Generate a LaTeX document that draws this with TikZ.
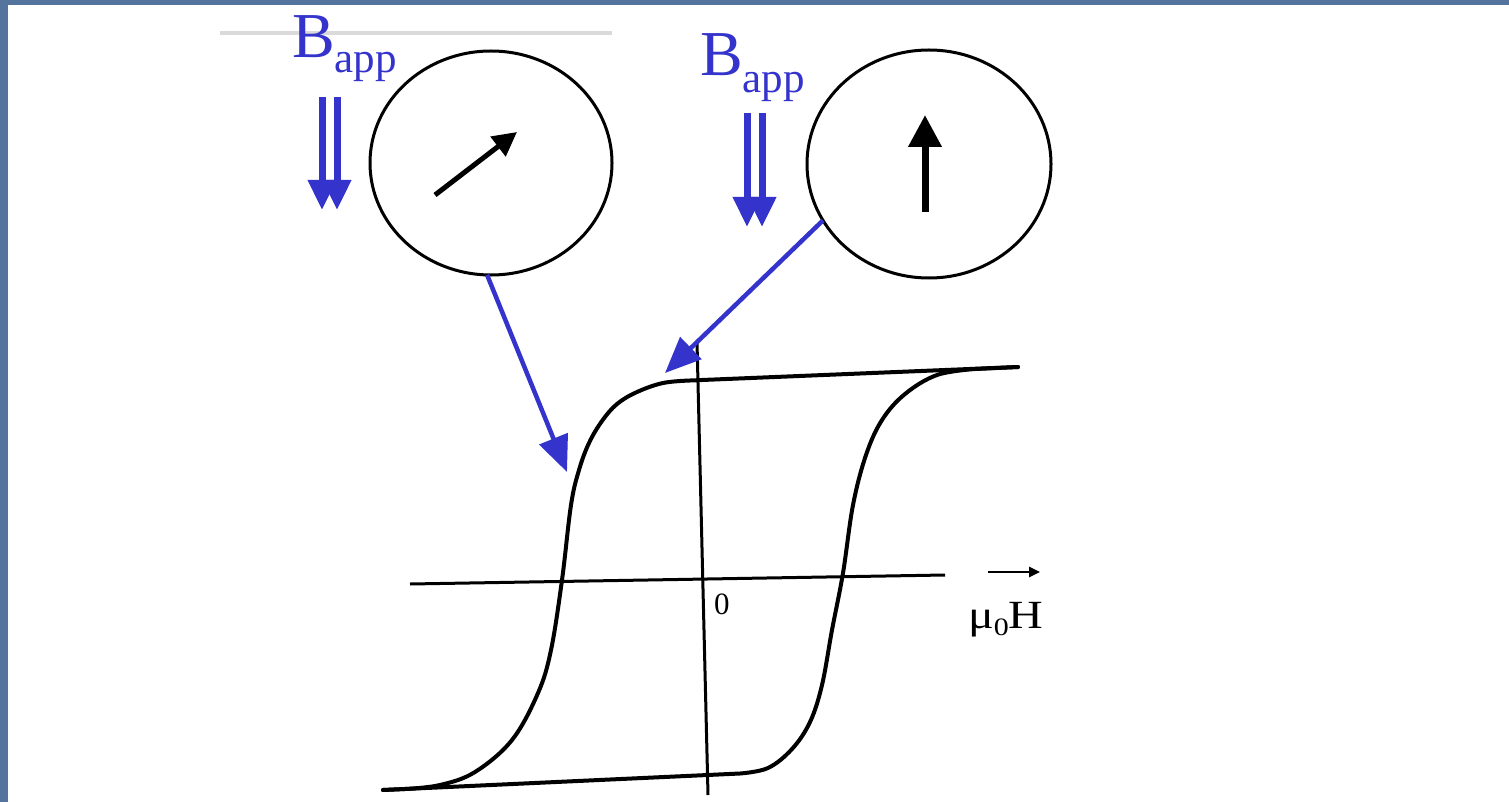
\documentclass[tikz,border=0pt]{standalone}
\usepackage{fontspec}
\setmainfont{Liberation Serif}
\usetikzlibrary{arrows.meta,shapes.geometric,calc}
\definecolor{bgblue}{RGB}{84,116,158}
\definecolor{appblue}{RGB}{52,52,204}
\definecolor{faintgray}{RGB}{218,218,218}
\begin{document}
\begin{tikzpicture}[x=1pt,y=-1pt,
  magcircle/.style={ellipse,draw=black,line width=3pt,inner sep=0pt,outer sep=0pt,minimum width=242pt,minimum height=224pt},
  fieldarrow/.style={draw=appblue,line width=7pt,-{Triangle[length=30pt,width=27pt]}},
  pointer/.style={draw=appblue,line width=4.5pt,-{Triangle[length=36pt,width=30pt]}},
  loopline/.style={line width=4pt,line join=round,line cap=round},
  axisline/.style={line width=3pt},
  bapp/.style={text=appblue,inner sep=0pt,anchor=base west}]
\useasboundingbox (0,0) rectangle (1509,802);
\fill[bgblue] (0,0) rectangle (1509,802);
\fill[white] (8,5) rectangle (1509,802);
\draw[faintgray,line width=4pt] (220,33) -- (612,33);

% labels
\node[bapp] (b1) at (292,58) {\fontsize{64}{64}\selectfont B\raisebox{-15pt}{\fontsize{43}{43}\selectfont app}};
\node[bapp] (b2) at (700,76) {\fontsize{64}{64}\selectfont B\raisebox{-17pt}{\fontsize{43}{43}\selectfont app}};

% applied field double arrows
\draw[fieldarrow] (322,97) -- (322,210);
\draw[fieldarrow] (337,97) -- (337,210);
\draw[fieldarrow] (747,113) -- (747,227);
\draw[fieldarrow] (762,113) -- (762,227);

% particles
\node[magcircle] (c1) at (491,163) {};
\node[magcircle,minimum width=244pt,minimum height=228pt] (c2) at (929,164) {};
\draw[line width=5pt,-{Triangle[length=24pt,width=24pt]}] ($(c1)+(-56,32)$) -- ($(c1)+(26,-31)$);
\draw[line width=7pt,-{Triangle[length=32pt,width=32pt]}] ($(c2)+(-4,48)$) -- ($(c2)+(-4,-49)$);

% axes
\draw[axisline] (410,584) -- (945,575);
\draw[axisline] (697,342) -- (708,795);
\node[inner sep=0pt,anchor=north west] (zero) at (714,594) {\fontsize{31}{31}\selectfont 0};
\node[inner sep=0pt,anchor=base west] (mu) at (968,628) {\scalebox{1.2}[1]{\fontsize{40}{40}\selectfont μ\raisebox{-7pt}{\fontsize{25}{25}\selectfont 0}H}};
\coordinate (arrstart) at (988,572);
\coordinate (arrend) at (1040,572);
\draw[line width=2.5pt,-{Triangle[length=11pt,width=10pt]}] (arrstart) -- (arrend);

% hysteresis loop
\draw[loopline] (1018,367) -- (690,380.5)
  plot[smooth,tension=0.6] coordinates {(690,380.5) (663,383) (637,392) (617,404) (602,421) (589,443) (579,470) (571,505) (562,580) (551,650) (538,693) (512,740) (475,772) (440,785) (405,789)}
  -- (383,790);
\draw[loopline] (383,790) -- (740,773.5)
  plot[smooth,tension=0.6] coordinates {(740,773.5) (768,768) (792,749) (810,722) (822,685) (832,630) (843,573) (853,505) (866,455) (882,420) (905,394) (937,375) (975,369)}
  -- (1018,367);

% pointers
\coordinate (p1) at (567,472);
\coordinate (p2) at (665,373);
\draw[pointer] (c1.268) -- (p1);
\draw[pointer] (c2.208) -- (p2);
\end{tikzpicture}
\end{document}
